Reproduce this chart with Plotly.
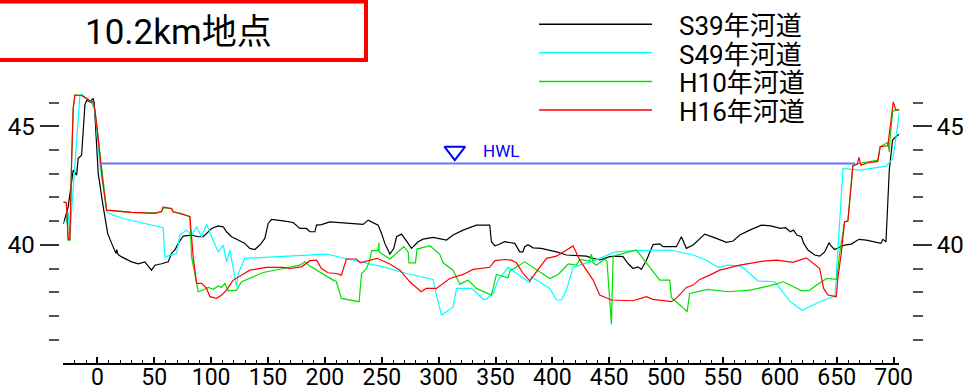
import plotly.graph_objects as go

W, H = 963, 392
FONT = "Roboto, Noto Sans CJK JP, sans-serif"

TITLE = "10.2km地点"
SERIES_NAMES = ["S39年河道", "S49年河道", "H10年河道", "H16年河道"]
SERIES_COLORS = ["#000000", "#00ffff", "#00e000", "#ff0000"]

S39 = [(-30, 40.87), (-25.7, 41.6), (-21.3, 43.15), (-18.3, 42.94), (-16.9, 43.65), (-13.9, 43.78),
       (-11, 45.9), (-9.5, 46.1), (-6.6, 46.03), (-3.7, 46.18), (-2.8, 45.97), (0.7, 43.01), (5.1, 41.6),
       (9, 40.48), (12.5, 40.06), (16.3, 39.64), (17, 39.8), (18, 39.6), (21.3, 39.49), (30, 39.28),
       (35.9, 39.2), (41.7, 39.28), (47.6, 38.93), (50.5, 39.14), (56.4, 39.2), (62.2, 39.28), (65.2, 39.64),
       (68.1, 39.78), (71, 40.06), (75.4, 40.37), (82.8, 40.41), (88.6, 40.34), (93, 40.34), (100.4, 40.69),
       (106.2, 40.8), (110.6, 40.76), (113.5, 40.55), (117.9, 40.34), (123.8, 40.2), (129.6, 40.06),
       (134, 39.85), (138.4, 39.8), (142.8, 39.99), (147.2, 40.27), (150.1, 40.9), (153.1, 41.07),
       (163.3, 41.01), (167.7, 40.97), (172.1, 40.94), (178, 40.69), (183.8, 40.69), (186.8, 40.55),
       (191.2, 40.55), (192.6, 40.83), (197, 40.85), (204.3, 40.97), (213.1, 40.94), (221.9, 40.9),
       (233.6, 40.86), (238, 41.04), (242.4, 40.94), (246.8, 40.83), (249.8, 40.48), (252.7, 40.06),
       (257.1, 39.61), (260.6, 39.85), (263, 40.34), (267.4, 40.45), (271.2, 40.2), (276.1, 39.85),
       (282, 40.13), (286.3, 40.24), (295.1, 40.31), (301, 40.27), (306.9, 40.2), (312.7, 40.41),
       (321.5, 40.62), (333.2, 40.83), (344.9, 40.83), (346.4, 40.13), (349.4, 39.96), (352.3, 40.0),
       (358.1, 40.13), (366.9, 40.06), (371.3, 39.7), (374, 39.7), (375.7, 39.92), (378.6, 40.0),
       (383, 39.87), (390.3, 39.85), (397, 39.78), (403.6, 39.7), (412.4, 39.57), (429.9, 39.52),
       (435.8, 39.43), (441.6, 39.36), (446, 39.43), (450.4, 39.5), (456.3, 39.52), (462.1, 39.5),
       (466.5, 39.21), (470.9, 39.0), (475.3, 39.07), (478.2, 38.96), (482.7, 39.35), (488.5, 40.01),
       (494.4, 40.04), (497.3, 39.92), (503.2, 39.92), (509, 39.92), (513.4, 40.34), (517.8, 39.85),
       (523.7, 39.99), (534, 40.45), (544.2, 40.27), (553, 40.1), (558.9, 40.16), (564.7, 40.41),
       (573.5, 40.62), (583.7, 40.83), (592, 40.8), (600.4, 40.69), (605, 40.72), (609.2, 40.55),
       (612, 40.62), (615, 40.41), (619, 40.34), (621, 40.06), (624.7, 39.78), (630.6, 39.57),
       (635, 39.52), (639.4, 39.7), (643.2, 40.09), (645, 39.95), (648.1, 39.8), (652, 39.88),
       (656.9, 39.99), (662.8, 40.03), (669.6, 40.23), (676, 40.2), (683.1, 40.13), (688.9, 40.06),
       (690.5, 40.23), (693.3, 40.13), (696.2, 43.15), (699.1, 44.42), (702, 44.56), (704.9, 44.67)]

S49 = [(-30, 40.97), (-27.3, 40.97), (-25.7, 41.39), (-24.2, 40.41), (-15.4, 46.3), (-13.9, 46.36),
       (-9.5, 46.18), (-5.1, 45.97), (-2.2, 45.68), (2.2, 43.36), (8.1, 41.39), (13.9, 41.25),
       (22.7, 41.11), (57.8, 40.72), (59.3, 39.49), (65.2, 39.56), (69.6, 39.64), (72.5, 40.41),
       (78.4, 40.62), (82.8, 40.4), (87.2, 40.76), (91.6, 40.34), (96, 40.87), (100.4, 40.34),
       (106.2, 39.7), (110.6, 39.99), (113.5, 39.28), (116.5, 39.78), (120.8, 38.65), (122.3, 38.23),
       (123.8, 38.79), (129.6, 39.43), (138.4, 39.45), (163.3, 39.52), (201.4, 39.61), (221.9, 39.38),
       (251.2, 39.07), (271.8, 38.79), (295.1, 38.54), (298.1, 37.88), (302.5, 37.03), (312.7, 37.38),
       (315.7, 38.16), (328.9, 38.16), (339.1, 37.7), (342, 37.7), (347.9, 37.95), (352.3, 38.51),
       (361.1, 39.05), (370, 38.75), (380.1, 38.4), (381.5, 38.65), (397.7, 38.16), (403.6, 37.67),
       (408, 37.67), (412.4, 38.09), (418.2, 39.05), (424, 39.14), (435.8, 39.31), (455, 39.7),
       (473.9, 39.75), (503.2, 39.78), (523.7, 39.57), (535.5, 39.35), (545.7, 39.05), (553.9, 39.14),
       (566.2, 39.1), (580.9, 38.47), (595.6, 38.44), (609.2, 37.6), (619.4, 37.24), (635.3, 37.6),
       (648.5, 37.84), (655.5, 43.22), (670.2, 43.15), (693.6, 43.32), (699.4, 43.65), (702, 44.5),
       (704.9, 45.54)]

H10 = [(-30, 41.81), (-27.3, 41.78), (-25.7, 40.2), (-24.2, 40.2), (-22.7, 43.5), (-21.3, 45.76),
       (-19.8, 46.32), (-13.9, 46.3), (-8.1, 46.13), (-3.7, 45.99), (-2.2, 45.68), (0.7, 44.49),
       (4, 42.9), (8.1, 41.46), (30, 41.37), (50.5, 41.35), (56.4, 41.4), (57.8, 41.56), (65.2, 41.54),
       (66.6, 41.39), (73.9, 41.33), (81.3, 41.18), (82.8, 39.49), (88.6, 38.02), (93, 38.09),
       (97.4, 38.2), (101.9, 38.12), (106.2, 38.26), (109, 38.2), (112.1, 38.37), (115, 38.06),
       (122.3, 38.09), (126.7, 38.44), (134, 38.58), (145.7, 38.83), (163.3, 39.0), (178, 39.14),
       (182.4, 39.28), (186.8, 39.1), (207.2, 38.51), (210, 38.45), (214.5, 37.74), (230.1, 37.6),
       (232.2, 38.79), (236.6, 39.0), (239.5, 39.35), (241, 39.75), (246.8, 39.75), (247.4, 40.1),
       (247.7, 39.7), (257.1, 39.4), (269.4, 39.92), (273.2, 39.7), (274, 39.24), (279.6, 39.24),
       (281, 39.82), (292.2, 39.96), (300.9, 39.61), (303.9, 39.24), (312.7, 38.93), (318.6, 38.34),
       (325.9, 38.51), (333.2, 38.16), (346.4, 37.88), (350.8, 38.75), (361.1, 38.61), (362.6, 38.9),
       (375.7, 39.28), (386, 38.96), (397.7, 38.58), (405.1, 38.75), (413.9, 39.19), (421, 39.14),
       (424.1, 39.38), (432.9, 39.31), (434.3, 39.61), (435.8, 39.24), (438.7, 39.14), (446, 39.4),
       (448, 39.3), (451.9, 36.65), (453.4, 39.52), (473.9, 39.78), (484.2, 39.14), (494.4, 38.51),
       (503.2, 38.51), (504.6, 37.78), (513.4, 37.41), (518.4, 37.17), (520.7, 37.95), (536.8, 38.12),
       (554.4, 38.02), (573.5, 38.09), (591.1, 38.27), (602.8, 38.44), (619.4, 38.06), (626, 38.08),
       (632.4, 38.3), (641.2, 38.58), (650, 38.54), (652.6, 39.64), (656.9, 40.97), (659.8, 41.0),
       (664.2, 43.36), (665.7, 43.4), (686.1, 43.57), (688.2, 44.14), (694.9, 44.32), (696.2, 43.92),
       (696.8, 44.4), (699.1, 45.61), (702, 45.7), (704.9, 45.68)]

H16 = [(-30, 41.81), (-27.3, 41.78), (-25.7, 40.25), (-24.2, 40.2), (-22.7, 43.5), (-21.3, 45.76),
       (-19.8, 46.32), (-13.9, 46.3), (-8.1, 46.13), (-5.5, 46.0), (-3.7, 46.05), (-2.2, 45.68),
       (0.7, 44.49), (4, 42.9), (8.1, 41.46), (30, 41.37), (50.5, 41.33), (56.4, 41.4), (57.8, 41.6),
       (65.2, 41.52), (66.6, 41.39), (73.9, 41.31), (81.3, 41.2), (84.2, 39.49), (87.2, 38.37),
       (91.6, 38.37), (96, 38.16), (98.9, 37.81), (104.8, 37.74), (109.2, 37.88), (113.5, 38.09),
       (119.4, 38.51), (126.7, 38.72), (134, 38.93), (148.7, 39.05), (163.3, 39.05), (169.2, 39.0),
       (179.5, 39.07), (186.8, 39.33), (192.6, 39.35), (197, 39.0), (202.8, 38.82), (210.1, 38.79),
       (214.5, 38.72), (218.9, 39.4), (227.7, 39.4), (231.1, 39.24), (245.8, 39.43), (257.1, 39.19),
       (265.9, 38.93), (274.7, 38.44), (284.6, 38.02), (289, 38.16), (298.1, 38.16), (309.8, 38.58),
       (321.5, 38.75), (330.3, 38.96), (345, 39.05), (349.4, 39.33), (358.1, 39.38), (364, 39.35),
       (368.4, 39.24), (374.2, 38.79), (380.1, 38.48), (394.8, 39.43), (403.6, 39.52), (418.2, 39.95),
       (424.1, 39.35), (429.9, 38.93), (435.8, 38.51), (441.6, 37.88), (451.9, 37.67), (470.9, 37.64),
       (482.7, 37.81), (488.5, 37.7), (504.6, 37.6), (509, 37.75), (517.8, 38.2), (523.7, 38.3),
       (529.6, 38.54), (538.3, 38.72), (547.1, 38.93), (564.7, 39.14), (585.3, 39.31), (597, 39.35),
       (611.4, 39.26), (623.2, 39.45), (635, 39.0), (638.5, 38.16), (642.3, 37.88), (649.6, 37.81),
       (651, 38.6), (654, 39.64), (656.9, 40.97), (659.8, 41.0), (664.2, 43.33), (668, 43.4),
       (669.6, 43.69), (671.1, 43.36), (677, 43.45), (686.1, 43.52), (688.2, 44.14), (694.9, 44.18),
       (697, 44.9), (699.7, 46.03), (702, 45.68), (704.9, 45.7)]

HWL_LEVEL = 43.43
HWL_X = [2, 666]
HWL_MARK_X = 314.2
HWL_MARK_Y = 43.95
HWL_LABEL = "HWL"
HWL_LABEL_X = 337

X_RANGE = [-30, 705]
Y_RANGE = [35, 47]
Y_LABELED = [40, 45]
Y_MINOR = [36, 37, 38, 39, 41, 42, 43, 44, 46]


def px(x):
    return x / W


def py(y):
    return 1 - y / H


fig = go.Figure()
for name, data, color in zip(SERIES_NAMES, [S39, S49, H10, H16], SERIES_COLORS):
    fig.add_trace(go.Scatter(x=[p[0] for p in data], y=[p[1] for p in data], mode="lines",
                             name=name, line=dict(color=color, width=1.2), showlegend=False,
                             hoverinfo="skip"))

fig.add_trace(go.Scatter(x=HWL_X, y=[HWL_LEVEL, HWL_LEVEL], mode="lines",
                         line=dict(color="#7070ff", width=2), showlegend=False, hoverinfo="skip"))
fig.add_trace(go.Scatter(x=[HWL_MARK_X], y=[HWL_MARK_Y], mode="markers",
                         marker=dict(symbol="triangle-down-open", size=18, color="#0000ff",
                                     line=dict(width=2, color="#0000ff")),
                         showlegend=False, hoverinfo="skip"))
fig.add_annotation(x=HWL_LABEL_X, y=HWL_MARK_Y, xref="x", yref="y", text=HWL_LABEL, showarrow=False,
                   xanchor="left", yanchor="middle",
                   font=dict(family=FONT, size=17, color="#0000ff"))
# invisible trace to carry the right-hand axis
fig.add_trace(go.Scatter(x=[X_RANGE[0]], y=[Y_RANGE[0]], yaxis="y2", mode="markers",
                         marker=dict(opacity=0), showlegend=False, hoverinfo="skip"))

x0, x1 = 63.3, 899.3
ybot = 363.3
ytop = ybot - (Y_RANGE[1] - Y_RANGE[0]) * 23.7

ytickfont = dict(family="Roboto, sans-serif", size=24, color="#000000")
xtickfont = dict(family="Roboto, sans-serif", size=23, color="#000000")
yaxis_common = dict(domain=[py(ybot), py(ytop)], range=Y_RANGE, showgrid=False, zeroline=False,
                    showline=False, anchor="free", automargin=False,
                    tickmode="array", tickvals=Y_LABELED, ticks="outside", ticklen=19,
                    tickwidth=1.5, tickcolor="#333333", tickfont=ytickfont,
                    minor=dict(tickmode="array", tickvals=Y_MINOR, ticks="outside", ticklen=10,
                               tickwidth=1.5, tickcolor="#555555", showgrid=False))
fig.update_layout(
    width=W, height=H, margin=dict(l=0, r=0, t=0, b=0, autoexpand=False),
    paper_bgcolor="white", plot_bgcolor="white",
    xaxis=dict(domain=[px(x0), px(x1)], range=X_RANGE, showgrid=False, zeroline=False,
               showline=True, linecolor="#000000", linewidth=1.5, automargin=False,
               ticks="inside", ticklen=7, tickwidth=1.5, tickcolor="#000000",
               tick0=0, dtick=50, tickfont=xtickfont, ticklabelstandoff=-8,
               minor=dict(ticks="inside", ticklen=4, tickwidth=1.2, tickcolor="#000000",
                          tick0=0, dtick=10, showgrid=False)),
    yaxis=dict(position=px(58.5), **yaxis_common),
    yaxis2=dict(position=px(912), overlaying="y", side="right", **yaxis_common),
)

# title box
fig.add_shape(type="rect", xref="paper", yref="paper", x0=px(-5), x1=px(366), y0=py(60), y1=py(1.5),
              line=dict(color="#ff0000", width=4), fillcolor="rgba(0,0,0,0)")
fig.add_annotation(xref="paper", yref="paper", x=px(178), y=py(33), text=TITLE, showarrow=False,
                   font=dict(family=FONT, size=35, color="#000000"), xanchor="center", yanchor="middle")

# legend
leg_rows = [24.3, 52.7, 81.5, 110.0]
for name, color, yy in zip(SERIES_NAMES, SERIES_COLORS, leg_rows):
    fig.add_shape(type="line", xref="paper", yref="paper", x0=px(539), x1=px(652), y0=py(yy), y1=py(yy),
                  line=dict(color=color, width=1.5))
    fig.add_annotation(xref="paper", yref="paper", x=px(677), y=py(yy + 2), text=name, showarrow=False,
                       font=dict(family=FONT, size=26, color="#000000"), xanchor="left",
                       yanchor="middle")

fig.write_html("out.html", config={"displayModeBar": False},
               post_script="document.body.style.margin='0';document.body.style.overflow='hidden';")
